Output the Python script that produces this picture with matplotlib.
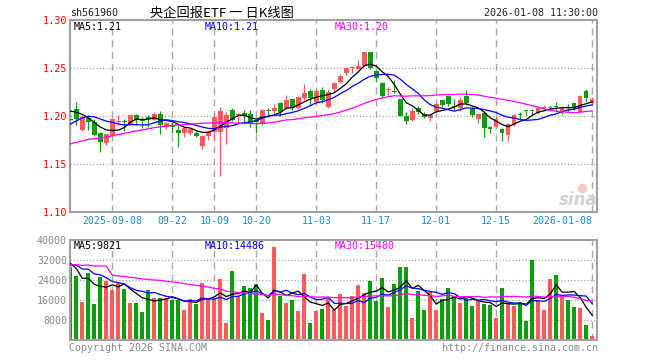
import matplotlib
matplotlib.use('Agg')
import matplotlib.pyplot as plt
import numpy as np
import pandas as pd

# daily bars 2025-08-28 .. 2026-01-08
open_ = [1.1975, 1.2076, 1.1857, 1.1980, 1.1944, 1.1829, 1.1719, 1.1795, 1.1945, 1.1955,
         1.1915, 1.2014, 1.1965, 1.1990, 1.1961, 1.2024, 1.1885, 1.1910, 1.1857, 1.1830,
         1.1830, 1.1823, 1.1694, 1.1798, 1.1833, 1.1840, 1.1875, 1.2066, 1.2015, 1.2035,
         1.2020, 1.1960, 1.1917, 1.2057, 1.2055, 1.2135, 1.2090, 1.2180, 1.2083, 1.2188,
         1.2263, 1.2146, 1.2274, 1.2100, 1.2281, 1.2360, 1.2454, 1.2506, 1.2493, 1.2527,
         1.2667, 1.2472, 1.2344, 1.2274, 1.2263, 1.2180, 1.2003, 1.1961, 1.2083, 1.2021,
         1.1985, 1.2055, 1.2170, 1.2215, 1.2110, 1.2083, 1.2215, 1.2073, 1.1969, 1.2031,
         1.1892, 1.1892, 1.1865, 1.1805, 1.1909, 1.2018, 1.2062, 1.2058, 1.2031, 1.2085,
         1.2087, 1.2102, 1.2031, 1.2092, 1.2135, 1.2048, 1.2264, 1.2135]
close = [1.1962, 1.1972, 1.1990, 1.1944, 1.1810, 1.1729, 1.1813, 1.1970, 1.1955, 1.1945,
         1.2014, 1.1961, 1.1955, 1.1972, 1.2024, 1.1909, 1.1927, 1.1892, 1.1830, 1.1875,
         1.1865, 1.1795, 1.1798, 1.1833, 1.1996, 1.2055, 1.2014, 1.1961, 1.2025, 1.2000,
         1.1927, 1.1938, 1.2066, 1.2053, 1.2090, 1.2048, 1.2170, 1.2083, 1.2204, 1.2246,
         1.2194, 1.2263, 1.2170, 1.2256, 1.2344, 1.2423, 1.2500, 1.2516, 1.2527, 1.2667,
         1.2506, 1.2402, 1.2215, 1.2284, 1.2250, 1.2006, 1.1951, 1.2055, 1.2048, 1.1996,
         1.2014, 1.2125, 1.2118, 1.2125, 1.2097, 1.2170, 1.2135, 1.2014, 1.2024, 1.1875,
         1.1868, 1.1969, 1.1830, 1.1920, 1.2014, 1.2010, 1.2055, 1.2052, 1.2083, 1.2090,
         1.2093, 1.2097, 1.2083, 1.2088, 1.2083, 1.2215, 1.2188, 1.2177]
high = [1.2066, 1.2152, 1.2014, 1.2014, 1.1969, 1.1835, 1.1820, 1.1980, 1.2014, 1.1975,
        1.2014, 1.2024, 1.1990, 1.2014, 1.2045, 1.2055, 1.1940, 1.1940, 1.1910, 1.1890,
        1.1875, 1.1860, 1.1805, 1.1860, 1.2030, 1.2100, 1.2045, 1.2090, 1.2035, 1.2070,
        1.2070, 1.1970, 1.2077, 1.2082, 1.2125, 1.2145, 1.2225, 1.2185, 1.2215, 1.2335,
        1.2280, 1.2280, 1.2310, 1.2280, 1.2360, 1.2440, 1.2510, 1.2526, 1.2589, 1.2667,
        1.2670, 1.2475, 1.2360, 1.2310, 1.2380, 1.2185, 1.2040, 1.2090, 1.2110, 1.2050,
        1.2024, 1.2140, 1.2175, 1.2225, 1.2185, 1.2205, 1.2270, 1.2101, 1.2035, 1.2045,
        1.1900, 1.2000, 1.1880, 1.1930, 1.2024, 1.2048, 1.2066, 1.2076, 1.2090, 1.2115,
        1.2118, 1.2150, 1.2090, 1.2128, 1.2140, 1.2225, 1.2281, 1.2205]
low = [1.1771, 1.1909, 1.1850, 1.1860, 1.1792, 1.1631, 1.1701, 1.1790, 1.1909, 1.1850,
       1.1905, 1.1909, 1.1880, 1.1885, 1.1960, 1.1820, 1.1870, 1.1830, 1.1684, 1.1780,
       1.1805, 1.1780, 1.1660, 1.1750, 1.1750, 1.1376, 1.1713, 1.1950, 1.1935, 1.1915,
       1.1885, 1.1823, 1.1906, 1.2015, 1.2000, 1.2000, 1.2075, 1.2070, 1.2075, 1.2167,
       1.2120, 1.2125, 1.2135, 1.2090, 1.2260, 1.2350, 1.2430, 1.2446, 1.2493, 1.2520,
       1.2495, 1.2365, 1.2190, 1.2225, 1.2240, 1.2000, 1.1916, 1.1950, 1.2024, 1.1985,
       1.1950, 1.2045, 1.2100, 1.2110, 1.2065, 1.2060, 1.2118, 1.1997, 1.1934, 1.1785,
       1.1823, 1.1885, 1.1743, 1.1743, 1.1900, 1.1972, 1.2014, 1.2014, 1.2025, 1.2066,
       1.2066, 1.2045, 1.2014, 1.2059, 1.2069, 1.2045, 1.2153, 1.2118]
volume = [29100, 25700, 15300, 26900, 14400, 25300, 23700, 20000, 22900, 20400,
          14900, 14900, 11300, 20000, 16900, 16900, 16700, 16000, 16000, 12000,
          16400, 14400, 22900, 16300, 16300, 24400, 6900, 27700, 17600, 21600,
          20900, 22400, 10900, 8000, 37300, 17700, 14900, 16000, 11700, 26400,
          6900, 11700, 12400, 16700, 12000, 18400, 13600, 17600, 22000, 18900,
          23600, 15700, 24700, 13200, 22400, 29300, 29300, 8900, 19600, 12000,
          19300, 12000, 16400, 20900, 17600, 14900, 16900, 13600, 16000, 14400,
          14000, 8900, 20900, 14300, 13600, 15300, 7700, 32000, 16000, 12000,
          24400, 26000, 17300, 16000, 13200, 12800, 6000, 1600]

# the 29 sessions before the window (only feed the moving averages), estimated from the MA lines
hist_close = [1.150, 1.152, 1.149, 1.153, 1.155, 1.154, 1.157, 1.156, 1.158, 1.160,
              1.162, 1.161, 1.164, 1.166, 1.165, 1.168, 1.170, 1.172, 1.174, 1.174,
              1.162, 1.168, 1.178, 1.186, 1.196, 1.203, 1.210, 1.212, 1.206]
hist_volume = [22000, 25000, 21000, 27000, 24000, 26000, 130000, 30000, 28000, 23000,
               25000, 22000, 26000, 24000, 21000, 27000, 25000, 23000, 26000, 25000,
               26000, 31000, 28000, 33000, 28700, 36000, 35000, 27000, 26300]

tick_pos = [7, 17, 24, 31, 41, 51, 61, 71, 87]
tick_lab = ['2025-09-08', '09-22', '10-09', '10-20', '11-03', '11-17', '12-01', '12-15', '2026-01-08']
price_ticks = [1.10, 1.15, 1.20, 1.25, 1.30]
vol_ticks = [8000, 16000, 24000, 32000, 40000]
ma_price_txt = ['MA5:1.21', 'MA10:1.21', 'MA30:1.20']
ma_vol_txt = ['MA5:9821', 'MA10:14486', 'MA30:15480']

RED = '#ff5a5a'
GREEN = '#0a9f0a'
GRID = '#a8a8a8'
FRAME = '#a0a0a0'
MA_COL = ['black', '#0000ff', '#ff00ff']
MONO = 'DejaVu Sans Mono'

plt.rcParams['font.family'] = [MONO, 'Noto Sans CJK SC']

o = np.array(open_)
c = np.array(close)
h = np.array(high)
l = np.array(low)
v = np.array(volume)
n = len(c)
x = np.arange(n)
nh = len(hist_close)

allc = pd.Series(hist_close + close)
allv = pd.Series(hist_volume + volume)
ma_p = [allc.rolling(k).mean().values[nh:] for k in (5, 10, 30)]
ma_v = [allv.rolling(k).mean().values[nh:] for k in (5, 10, 30)]

cols = np.where(c >= o, RED, GREEN)

W, H = 660, 360
def box(l_, t, r, b):
    return [l_ / W, 1 - b / H, (r - l_) / W, (b - t) / H]

fig = plt.figure(figsize=(6.6, 3.6), dpi=100)
ax = fig.add_axes(box(70, 20.3, 597, 212.3))
axv = fig.add_axes(box(70, 240, 597, 340))

for a in (ax, axv):
    a.set_xlim(-0.05, 87.8)
    for s in a.spines.values():
        s.set_color(FRAME)
        s.set_linewidth(1.5)
    for t in tick_pos:
        a.axvline(t, color=GRID, lw=1.0, ls=(0, (5, 3.5)), zorder=0)
    a.tick_params(length=0)

# price panel
for yv in price_ticks[1:-1]:
    ax.axhline(yv, color=GRID, lw=0.9, ls=(0, (1, 1.6)), zorder=0)
ax.vlines(x, l, h, colors=cols, lw=0.9, zorder=2)
body = np.maximum(np.abs(c - o), 0.0009)
ax.bar(x, body, bottom=np.minimum(o, c), width=0.76, color=cols, linewidth=0, zorder=3)
for m, col in zip(ma_p, MA_COL):
    ax.plot(x, m, color=col, lw=0.9, zorder=4)
ax.set_ylim(1.10, 1.30)
ax.set_yticks(price_ticks)
ax.set_yticklabels(['%.2f' % t for t in price_ticks], color='#ff0000', fontsize=7.4)
ax.set_xticks(tick_pos)
ax.set_xticklabels(tick_lab, color='#1a86d0', fontsize=7.1)
ax.tick_params(axis='y', pad=2.2)
ax.tick_params(axis='x', pad=3)
ax.get_xticklabels()[-1].set_ha('right')

# volume panel
for yv in vol_ticks[:-1]:
    axv.axhline(yv, color=GRID, lw=0.9, ls=(0, (1, 1.6)), zorder=0)
axv.bar(x, v, width=0.72, color=cols, linewidth=0, zorder=2)
for m, col in zip(ma_v, MA_COL):
    axv.plot(x, m, color=col, lw=0.9, zorder=4)
axv.set_ylim(0, 40000)
axv.set_yticks(vol_ticks)
axv.set_yticklabels([str(t) for t in vol_ticks], color='#888888', fontsize=7.2)
axv.tick_params(axis='y', pad=2.2)
axv.set_xticks([])

def ftext(px, py, s, **kw):
    fig.text(px / W, 1 - py / H, s, va='center', **kw)

ftext(70, 13, 'sh561960', fontsize=7.2, color='#222222')
ftext(222, 13, '央企回报ETF 一 日K线图', fontsize=9.5, color='black', ha='center',
      family=['Noto Sans CJK SC', 'DejaVu Sans'])
ftext(598, 13, '2026-01-08 11:30:00', fontsize=7.2, color='#222222', ha='right')

for px, s, col in zip((74, 205, 335), ma_price_txt, MA_COL):
    ftext(px, 27, s, fontsize=7.2, color=col)
for px, s, col in zip((74, 205, 335), ma_vol_txt, MA_COL):
    ftext(px, 246, s, fontsize=7.2, color=col)

ftext(69, 348, 'Copyright 2026 SINA.COM', fontsize=7.2, color='#888888')
ftext(598, 348, 'http://finance.sina.com.cn', fontsize=7.2, color='#888888', ha='right')

# sina watermark
ftext(578, 200, 'sina', fontsize=12, color='#d2d2d2', ha='center',
      family='DejaVu Sans', fontweight='bold', style='italic')
fig.lines.append(plt.Line2D([582 / W], [1 - 188 / H], marker='o', ms=6,
                            color='#f6caca', transform=fig.transFigure))

fig.savefig('out.png', dpi=100)
